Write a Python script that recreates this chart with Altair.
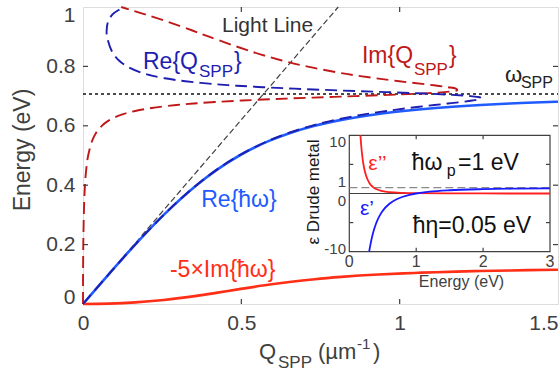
import altair as alt
import pandas as pd

FONT = "Liberation Sans"
AX = "#404040"
W, H = 475, 297

# ---------------- main panel data ----------------
# dispersion with real Q: Re{ħω} and -5×Im{ħω}
q_disp = [0, 0.0811, 0.1648, 0.2549, 0.3585, 0.4201, 0.4939, 0.5894, 0.6518, 0.7315,
          0.8159, 0.9327, 1.0118, 1.0594, 1.1142, 1.1783, 1.2547, 1.3482, 1.4035, 1.4940, 1.5]
e_re = [0, 0.1, 0.2, 0.3, 0.4, 0.45, 0.5, 0.55, 0.575, 0.6,
        0.62, 0.64, 0.65, 0.655, 0.66, 0.665, 0.67, 0.675, 0.6775, 0.681, 0.6812]
e_im5 = [0, 0.0013, 0.0054, 0.0135, 0.0274, 0.0374, 0.0500, 0.0654, 0.0741, 0.0835,
         0.0912, 0.0992, 0.1031, 0.1051, 0.1071, 0.1091, 0.1111, 0.1130, 0.1140, 0.1153, 0.1154]

# dispersion with real energy: Re{Q_SPP}, Im{Q_SPP}
e_spp = [0, 0.1, 0.2, 0.3, 0.35, 0.4, 0.45, 0.5, 0.55, 0.575,
         0.6, 0.615, 0.63, 0.64, 0.65, 0.66, 0.67, 0.675, 0.68, 0.685,
         0.69, 0.6925, 0.695, 0.6975, 0.70, 0.705, 0.71, 0.715, 0.72, 0.725,
         0.73, 0.735, 0.74, 0.75, 0.76, 0.77, 0.78, 0.8, 0.82, 0.85,
         0.9, 0.92, 0.95, 0.975, 0.99, 1.0]
re_q = [0, 0.0811, 0.1647, 0.2548, 0.3041, 0.3582, 0.4194, 0.4925, 0.5861, 0.6463,
        0.7213, 0.7770, 0.8440, 0.8970, 0.9583, 1.0294, 1.1100, 1.1522, 1.1934, 1.2293,
        1.2534, 1.2579, 1.2555, 1.2448, 1.2244, 1.1530, 1.0443, 0.9152, 0.7853, 0.6676,
        0.5678, 0.4862, 0.4199, 0.3231, 0.2584, 0.2136, 0.1812, 0.1391, 0.1136, 0.0915,
        0.0759, 0.0746, 0.0789, 0.0933, 0.1129, 0.1334]
im_q = [0, 0.0002, 0.0009, 0.0026, 0.0040, 0.0063, 0.0099, 0.0163, 0.0290, 0.0405,
        0.0594, 0.0771, 0.1036, 0.1292, 0.1649, 0.2168, 0.2950, 0.3491, 0.4167, 0.5013,
        0.6049, 0.6637, 0.7267, 0.7926, 0.8594, 0.9871, 1.0909, 1.1561, 1.1819, 1.1773,
        1.1532, 1.1184, 1.0791, 0.9988, 0.9247, 0.8593, 0.8019, 0.7060, 0.6281, 0.5318,
        0.3980, 0.3475, 0.2689, 0.1965, 0.1499, 0.1207]

light_q = [0, 0.806]
light_e = [0, 1.0]
omega_spp = [0.707]

x_ticks = [0, 0.5, 1, 1.5]
y_ticks = [0, 0.2, 0.4, 0.6, 0.8, 1]
x_inner_ticks = [0.5, 1.0]
y_inner_ticks = [0.2, 0.4, 0.6, 0.8]

# ---------------- inset data ----------------
eps1_e = [0.297, 0.31, 0.33, 0.35, 0.4, 0.45, 0.5, 0.6, 0.7, 0.8, 0.9, 1.0, 1.2, 1.5, 2.0, 2.5, 3.0]
eps1 = [-10.0, -9.14, -7.98, -7.0, -5.15, -3.88, -2.96, -1.76, -1.03, -0.56, -0.23, 0.0,
        0.31, 0.56, 0.75, 0.84, 0.89]
eps2_e = [0.166, 0.18, 0.2, 0.22, 0.25, 0.3, 0.35, 0.4, 0.5, 0.6, 0.8, 1.0, 1.5, 2.0, 3.0]
eps2 = [10.0, 7.96, 5.88, 4.47, 3.08, 1.80, 1.14, 0.77, 0.40, 0.23, 0.10, 0.05, 0.015, 0.006, 0.002]
inset_x_ticks = [0, 1, 2, 3]
inset_y_inner = [-5, 5]
inset_x_inner = [1, 2]

# ---------------- scales / encodings ----------------
sx = alt.Scale(domain=[0, 1.5], nice=False, zero=False)
sy = alt.Scale(domain=[0, 1], nice=False, zero=False)
ax_x = alt.Axis(values=x_ticks, format="~g", title=None, domain=False, ticks=False, tickSize=0,
                grid=False, labelFontSize=21, labelColor=AX, labelFont=FONT, labelPadding=8,
                labelAlign={"condition": {"test": "datum.value >= 1.5", "value": "right"},
                            "value": "center"},
                labelOverlap=False)
ax_y = alt.Axis(values=y_ticks, format="~g", title=None, domain=False, ticks=False, tickSize=0,
                grid=False, labelFontSize=21, labelColor=AX, labelFont=FONT, labelPadding=8,
                labelFlush=True, labelFlushOffset=3, labelOverlap=False)
X = alt.X("q:Q", scale=sx, axis=ax_x)
Y = alt.Y("e:Q", scale=sy, axis=ax_y)

six = alt.Scale(domain=[0, 3], range=[266.3, 467], nice=False, zero=False)
siy = alt.Scale(domain=[-10, 10], range=[244.7, 128.3], nice=False, zero=False)
IX = alt.X("ie:Q", scale=six, axis=None)
IY = alt.Y("iv:Q", scale=siy, axis=None)

BLUE_SOLID = "#1f5bff"
BLUE_DASH = "#1e1eb0"
RED_DASH = "#c01818"
RED_SOLID = "#ff2e17"

def df(**kw):
    return pd.DataFrame(kw)

main_layers = []
# light line
main_layers.append(alt.Chart(df(q=light_q, e=light_e)).mark_line(
    color=AX, strokeWidth=1.2, strokeDash=[6, 3]).encode(x=X, y=Y))
# omega_spp dotted line
main_layers.append(alt.Chart(df(e=omega_spp)).mark_rule(
    color="#111111", strokeWidth=1.3, strokeDash=[3, 3]).encode(y=Y, x=alt.value(0), x2=alt.value(W)))
# Re{ħω}
main_layers.append(alt.Chart(df(q=q_disp, e=e_re)).mark_line(
    color=BLUE_SOLID, strokeWidth=2.6, interpolate="monotone").encode(x=X, y=Y))
# -5 Im{ħω}
main_layers.append(alt.Chart(df(q=q_disp, e=e_im5)).mark_line(
    color=RED_SOLID, strokeWidth=2.6, interpolate="monotone").encode(x=X, y=Y))
# Im{Q}
main_layers.append(alt.Chart(df(q=im_q, e=e_spp, i=list(range(len(e_spp))))).mark_line(
    color=RED_DASH, strokeWidth=1.9, strokeDash=[12, 6], interpolate="catmull-rom").encode(
    x=X, y=Y, order=alt.Order("i:Q")))
# Re{Q}
main_layers.append(alt.Chart(df(q=re_q, e=e_spp, i=list(range(len(e_spp))))).mark_line(
    color=BLUE_DASH, strokeWidth=1.9, strokeDash=[12, 6], interpolate="catmull-rom").encode(
    x=X, y=Y, order=alt.Order("i:Q")))

# inward ticks of the main frame
tick_style = dict(color=AX, strokeWidth=1.2)
main_layers.append(alt.Chart(df(e=y_inner_ticks)).mark_rule(**tick_style).encode(
    y=Y, x=alt.value(0), x2=alt.value(5)))
main_layers.append(alt.Chart(df(e=y_inner_ticks)).mark_rule(**tick_style).encode(
    y=Y, x=alt.value(W - 5), x2=alt.value(W)))
main_layers.append(alt.Chart(df(q=x_inner_ticks)).mark_rule(**tick_style).encode(
    x=X, y=alt.value(H - 5), y2=alt.value(H)))
main_layers.append(alt.Chart(df(q=x_inner_ticks)).mark_rule(**tick_style).encode(
    x=X, y=alt.value(0), y2=alt.value(5)))

def label(q, e, t, color, size, align="left", baseline="alphabetic"):
    return alt.Chart(df(q=[q], e=[e], t=[t])).mark_text(
        align=align, baseline=baseline, font=FONT, fontSize=size, color=color).encode(
        x=X, y=Y, text="t:N")

main_layers += [
    label(0.439, 0.9175, "Light Line", "#333333", 21),
    label(0.1895, 0.7929, "Re{Q", BLUE_DASH, 23),
    label(0.3663, 0.7643, "SPP", BLUE_DASH, 17),
    label(0.4769, 0.7929, "}", BLUE_DASH, 23),
    label(0.881, 0.8104, "Im{Q", RED_DASH, 23),
    label(1.045, 0.771, "SPP", RED_DASH, 17),
    label(1.156, 0.8104, "}", RED_DASH, 23),
    label(1.3326, 0.7485, "ω", "#222222", 22),
    label(1.383, 0.7263, "SPP", "#222222", 16),
    label(0.4926, 0.3276, "Re{ħω}", BLUE_SOLID, 23, align="center"),
    label(0.4412, 0.0919, "-5×Im{ħω}", RED_SOLID, 23, align="center"),
]

def ptext(px, py, t, size, color=AX, align="left", baseline="alphabetic", angle=0):
    kw = dict(align=align, baseline=baseline, font=FONT, fontSize=size, color=color)
    if angle:
        kw["angle"] = angle
    return alt.Chart(df(t=[t])).mark_text(**kw).encode(
        x=alt.value(px - 83), y=alt.value(py - 7), text="t:N")

main_layers += [
    ptext(23, 150, "Energy (eV)", 23, align="center", baseline="middle", angle=270),
    ptext(259, 359, "Q", 22),
    ptext(278, 368, "SPP", 17),
    ptext(318, 359, "(µm", 22),
    ptext(357, 349, "-1", 15),
    ptext(373, 359, ")", 22),
]

main = alt.layer(*main_layers)

# ---------------- inset ----------------
inset_layers = []
inset_layers.append(alt.Chart(df(ie=[0], ie2=[3], iv=[-10], iv2=[10])).mark_rect(
    fill="white", stroke=AX, strokeWidth=1.2).encode(x=IX, x2="ie2:Q", y=IY, y2="iv2:Q"))
inset_layers.append(alt.Chart(df(ie=[0], ie2=[3], iv=[1])).mark_rule(
    color="#8a8a8a", strokeWidth=1.3, strokeDash=[8, 4]).encode(x=IX, x2="ie2:Q", y=IY))
inset_layers.append(alt.Chart(df(ie=[0], ie2=[3], iv=[0])).mark_rule(
    color=AX, strokeWidth=1.2).encode(x=IX, x2="ie2:Q", y=IY))
inset_layers.append(alt.Chart(df(ie=eps2_e, iv=eps2)).mark_line(
    color="#ff1f1f", strokeWidth=1.8, interpolate="monotone").encode(x=IX, y=IY))
inset_layers.append(alt.Chart(df(ie=eps1_e, iv=eps1)).mark_line(
    color="#1a1aff", strokeWidth=1.8, interpolate="monotone").encode(x=IX, y=IY))
# inset inward ticks
inset_layers.append(alt.Chart(df(iv=inset_y_inner)).mark_rule(**tick_style).encode(
    y=IY, x=alt.value(266.3), x2=alt.value(270.3)))
inset_layers.append(alt.Chart(df(iv=inset_y_inner)).mark_rule(**tick_style).encode(
    y=IY, x=alt.value(463), x2=alt.value(467)))
inset_layers.append(alt.Chart(df(ie=inset_x_inner)).mark_rule(**tick_style).encode(
    x=IX, y=alt.value(240.7), y2=alt.value(244.7)))
inset_layers.append(alt.Chart(df(ie=inset_x_inner)).mark_rule(**tick_style).encode(
    x=IX, y=alt.value(128.3), y2=alt.value(132.3)))
# inset tick labels
inset_layers.append(alt.Chart(df(ie=inset_x_ticks, t=[str(v) for v in inset_x_ticks])).mark_text(
    baseline="middle", font=FONT, fontSize=16, color=AX).encode(
    x=IX, y=alt.value(254.7), text="t:N"))
inset_layers.append(alt.Chart(df(iv=[10, 0], t=["10", "0"])).mark_text(
    align="right", baseline="alphabetic", dy=12, font=FONT, fontSize=15, color=AX).encode(
    y=IY, x=alt.value(263), text="t:N"))
inset_layers.append(alt.Chart(df(iv=[1], t=["1"])).mark_text(
    align="right", baseline="alphabetic", dy=-1, font=FONT, fontSize=15, color=AX).encode(
    y=IY, x=alt.value(263), text="t:N"))
inset_layers.append(alt.Chart(df(iv=[-10], t=["-10"])).mark_text(
    align="right", baseline="alphabetic", dy=2, font=FONT, fontSize=15, color=AX).encode(
    y=IY, x=alt.value(263), text="t:N"))

def ilabel(ie, iv, t, color, size, align="left", baseline="alphabetic"):
    return alt.Chart(df(ie=[ie], iv=[iv], t=[t])).mark_text(
        align=align, baseline=baseline, font=FONT, fontSize=size, color=color).encode(
        x=IX, y=IY, text="t:N")

inset_layers += [
    ilabel(0.284, 4.03, "ε’’", "#ff1f1f", 21),
    ilabel(0.16, -3.69, "ε’", "#1a1aff", 21),
    ilabel(0.933, 4.03, "ħω", "#111111", 23),
    ilabel(1.456, 3.0, "p", "#111111", 16),
    ilabel(1.625, 4.03, "=1 eV", "#111111", 23),
    ilabel(0.948, -6.83, "ħη=0.05 eV", "#111111", 23),
    ptext(461.5, 282, "Energy (eV)", 16, align="center", baseline="middle"),
    ptext(314, 192, "ε Drude metal", 17, color="#1a1a1a", align="center", baseline="middle", angle=270),
]

inset = alt.layer(*inset_layers)

chart = alt.layer(main, inset).resolve_scale(x="independent", y="independent").properties(
    width=W, height=H, autosize=alt.AutoSizeParams(type="none"),
    padding={"left": 83, "top": 7, "right": 2, "bottom": 69},
).configure_view(stroke=AX, strokeWidth=1.3).configure(background="white")

chart.save("out.html", embed_options={"renderer": "svg", "actions": False})
